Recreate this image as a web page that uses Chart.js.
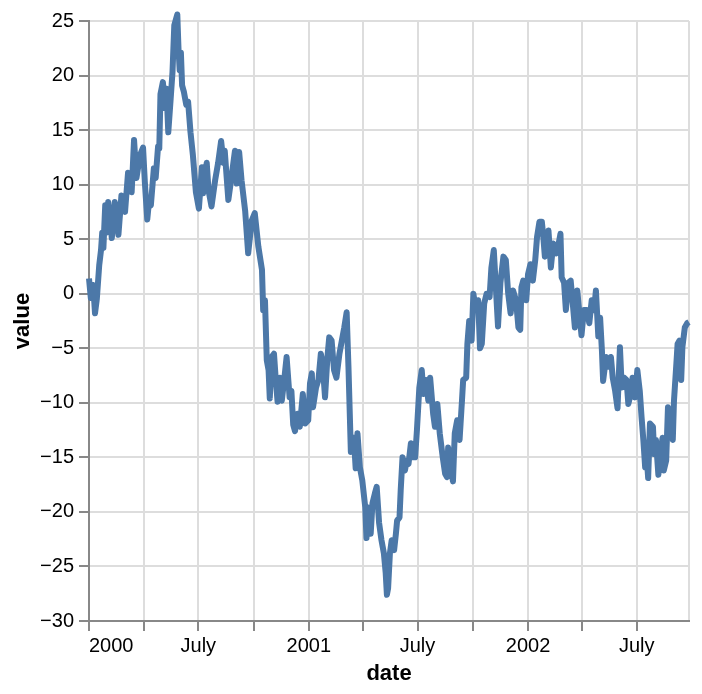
<!DOCTYPE html>
<html>
<head>
<meta charset="utf-8">
<script src="https://cdn.jsdelivr.net/npm/chart.js@4"></script>
<style>
  html, body { margin: 0; padding: 0; background: #fff; }
  canvas { display: block; }
</style>
</head>
<body>
<canvas id="chart" width="702" height="694"></canvas>
<script>
// Random walk, days counted from 2000-01-01
const days = [
  0, 3, 7, 10, 13, 17, 20, 22, 24, 27, 29, 32, 38, 43, 49, 54, 60, 65, 71, 75,
  79, 85, 90, 93, 97, 100, 103, 108, 111, 115, 117, 119, 123, 127, 129, 132, 136, 139, 142, 147,
  149, 151, 153, 155, 158, 162, 165, 169, 173, 178, 183, 188, 190, 196, 199, 204, 210, 215, 220, 224,
  226, 232, 238, 243, 246, 250, 254, 260, 265, 271, 276, 282, 288, 290, 293, 296, 299, 301, 304, 308,
  311, 314, 318, 321, 325, 329, 334, 337, 340, 343, 347, 351, 356, 360, 365, 368, 371, 373, 378, 382,
  386, 389, 393, 397, 400, 404, 408, 412, 417, 421, 425, 429, 432, 436, 441, 444, 447, 451, 455, 460,
  462, 465, 469, 472, 476, 479, 483, 487, 491, 494, 496, 498, 501, 504, 508, 511, 513, 517, 519, 522,
  526, 529, 532, 536, 539, 543, 546, 550, 554, 557, 561, 565, 568, 573, 576, 580, 584, 589, 593, 596,
  598, 602, 606, 609, 613, 617, 621, 623, 628, 630, 633, 637, 640, 644, 648, 651, 654, 658, 662, 667,
  670, 674, 678, 681, 685, 690, 694, 698, 702, 706, 711, 715, 718, 720, 723, 728, 731, 735, 739, 743,
  746, 750, 754, 756, 759, 765, 769, 773, 778, 781, 785, 787, 791, 794, 798, 802, 805, 809, 813, 816,
  820, 824, 829, 833, 837, 841, 844, 848, 851, 854, 856, 861, 865, 869, 872, 876, 880, 884, 887, 891,
  895, 898, 902, 905, 909, 913, 917, 920, 923, 926, 929, 931, 934, 939, 941, 944, 948, 952, 955, 957,
  961, 964, 967, 972, 974, 978, 980, 983, 986, 988, 992, 996, 999
];
const values = [
  1.4, -0.4, 0.8, -1.8, -0.5, 2.6, 4.0, 5.6, 4.2, 8.1, 5.6, 8.4, 5.1, 8.4, 5.4, 9.0, 7.5, 11.1, 9.3, 14.1,
  10.6, 12.7, 13.4, 10.2, 6.8, 8.5, 8.1, 11.5, 10.6, 13.5, 13.3, 18.3, 19.4, 17.0, 18.8, 14.8, 17.9, 20.3, 24.6, 25.6,
  22.5, 20.5, 22.1, 19.1, 18.5, 17.3, 17.6, 14.8, 12.7, 9.3, 7.8, 11.6, 9.2, 12.0, 9.5, 8.0, 10.4, 12.0, 14.0, 12.0,
  13.1, 8.6, 11.0, 13.1, 10.1, 13.0, 10.4, 7.6, 3.7, 6.7, 7.4, 4.3, 2.2, -1.5, -0.6, -6.1, -7.0, -9.6, -5.8, -5.5,
  -7.9, -9.9, -7.7, -9.8, -7.9, -5.8, -9.5, -8.9, -12.0, -12.6, -11.0, -12.2, -9.2, -11.9, -11.6, -8.2, -7.3, -10.4, -8.6, -7.9,
  -5.5, -6.4, -9.5, -5.8, -4.0, -4.3, -7.0, -7.7, -5.5, -4.3, -3.1, -1.7, -6.7, -14.5, -13.2, -16.0, -12.8, -15.9, -17.1, -19.6,
  -22.4, -19.6, -22.0, -19.2, -18.3, -17.7, -21.0, -22.6, -23.8, -25.6, -27.6, -27.0, -23.8, -22.6, -23.5, -22.0, -20.8, -20.5, -18.0, -15.0,
  -16.2, -15.3, -15.6, -13.7, -15.0, -15.0, -12.5, -8.6, -7.0, -9.2, -7.9, -9.8, -7.7, -11.0, -12.2, -10.1, -12.8, -15.0, -16.5, -16.8,
  -14.1, -15.9, -17.2, -12.8, -11.6, -13.4, -9.8, -7.9, -7.7, -4.6, -2.5, -4.3, 0.0, -1.5, -0.6, -5.0, -4.6, -0.9, 0.0, -0.3,
  2.4, 4.0, 0.0, -3.0, 1.0, 3.4, 3.1, 0.0, -1.8, 0.3, -0.6, -3.1, -3.3, 0.6, 1.2, -0.6, 1.8, 2.7, 1.2, 3.1,
  5.2, 6.6, 6.6, 5.5, 3.4, 5.8, 2.4, 4.6, 3.7, 4.3, 5.5, 1.5, 1.0, -1.5, 1.0, 1.2, -0.6, -3.1, 0.3, -1.5,
  -3.8, -1.5, -1.5, -2.7, -0.6, -1.5, 0.3, -3.9, -2.2, -5.2, -8.0, -5.8, -6.7, -5.8, -7.7, -8.9, -10.5, -4.9, -8.6, -7.7,
  -7.9, -10.1, -9.2, -7.7, -9.5, -7.0, -8.9, -11.3, -13.4, -15.9, -15.3, -16.9, -11.9, -12.2, -14.7, -13.4, -16.6, -14.4, -13.2, -16.2,
  -15.3, -10.4, -11.0, -13.4, -9.8, -6.4, -4.6, -4.3, -7.9, -4.9, -3.1, -2.7, -2.6
];

// x axis: quarter starts (days since 2000-01-01) and their labels
const tickDays = [0, 91, 182, 274, 366, 456, 547, 639, 731, 821, 912, 999];
const tickLabels = ['2000', '', 'July', '', '2001', '', 'July', '', '2002', '', 'July', ''];

const FONT = '"Liberation Sans", Arial, sans-serif';

const ctx = document.getElementById('chart');

const chart = new Chart(ctx, {
  type: 'line',
  data: {
    datasets: [
      {
        data: days.map((d, i) => ({ x: d, y: values[i] })),
        borderColor: '#4c78a8',
        borderWidth: 6,
        borderJoinStyle: 'round',
        pointRadius: 0,
        tension: 0,
        fill: false,
        clip: false,
      },
    ],
  },
  options: {
    responsive: false,
    animation: false,
    devicePixelRatio: 1,
    layout: {
      padding: { top: 21, right: 13, bottom: 0, left: 0 },
    },
    plugins: {
      legend: { display: false },
      tooltip: { enabled: false },
    },
    scales: {
      x: {
        type: 'linear',
        min: 0,
        max: 999,
        afterBuildTicks: (scale) => {
          scale.ticks = tickDays.map((v) => ({ value: v }));
        },
        afterFit: (scale) => {
          scale.height = 73;
        },
        ticks: {
          autoSkip: false,
          maxRotation: 0,
          padding: 3,
          color: '#000',
          font: { family: FONT, size: 20 },
          callback: (value, index) => {
            const label = tickLabels[index];
            // first label sits flush with the axis start
            return index === 0 ? '        ' + label : label;
          },
        },
        grid: {
          color: '#ddd',
          lineWidth: 2,
          tickLength: 10,
          tickColor: (c) => (c.index === tickDays.length - 1 ? 'rgba(0,0,0,0)' : '#888'),
          tickWidth: 2,
        },
        border: { color: '#888', width: 2 },
        title: {
          display: true,
          text: 'date',
          color: '#000',
          font: { family: FONT, size: 22, weight: 'bold' },
          padding: { top: 0, bottom: 7 },
        },
      },
      y: {
        min: -30,
        max: 25,
        afterFit: (scale) => {
          scale.width = 89;
        },
        ticks: {
          stepSize: 5,
          padding: 5,
          color: '#000',
          font: { family: FONT, size: 20 },
          callback: (v) => (v < 0 ? '\u2212' + Math.abs(v) : String(v)),
        },
        grid: {
          color: '#ddd',
          lineWidth: 2,
          tickLength: 10,
          tickColor: '#888',
          tickWidth: 2,
        },
        border: { color: '#888', width: 2 },
        title: {
          display: true,
          text: 'value',
          color: '#000',
          font: { family: FONT, size: 22, weight: 'bold' },
          padding: { top: 10, bottom: 0 },
        },
      },
    },
  },
});
</script>
</body>
</html>
